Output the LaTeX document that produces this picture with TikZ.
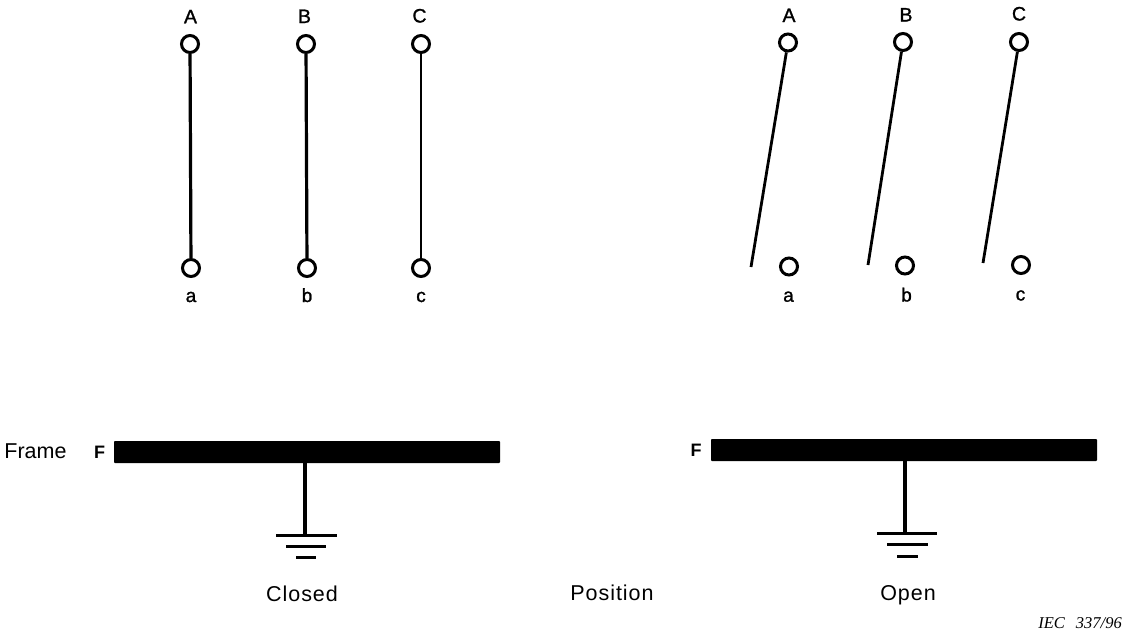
\documentclass[tikz,border=0pt]{standalone}
\usepackage{fontspec}
\setmainfont{Liberation Sans}
\newfontfamily\serifital{Liberation Serif}
\newfontfamily\spacedsans[LetterSpace=4.5]{Liberation Sans}
\newfontfamily\boldish[FakeBold=1.2]{Liberation Sans}
\tikzset{
  x=1pt,y=-1pt,
  term/.style={circle,draw=black,line width=3pt,fill=white,minimum size=17pt,inner sep=0pt},
  blade/.style={line width=3.2pt,draw=black},
  openblade/.style={line width=2.8pt,draw=black},
  framebar/.style={rectangle,fill=black,rounded corners=0.8pt,minimum width=386pt,minimum height=22pt,inner sep=0pt},
  stem/.style={line width=3.4pt,draw=black},
  gnd/.style={line width=3pt,draw=black},
  lab/.style={font=\boldish\fontsize{19.5}{20}\selectfont,inner sep=0pt,anchor=base},
  lowlab/.style={font=\boldish\fontsize{19}{20}\selectfont,inner sep=0pt,anchor=base},
  captext/.style={font=\spacedsans\fontsize{21.5}{22}\selectfont,inner sep=0pt,anchor=base},
}
\begin{document}
\begin{tikzpicture}
\useasboundingbox (0,0) rectangle (1125,630);
% closed
\foreach \n/\xa/\xb in {A/190/191,B/306/307}{
  \node[term] (t\n) at (\xa,44) {};
  \node[term] (b\n) at (\xb,268) {};
  \draw[blade] (t\n) -- (b\n);
}
\node[term] (tC) at (421,44) {};
\node[term] (bC) at (421,268) {};
\draw[openblade] (tC) -- (bC);
\node[lab] (lA) at (190.5,23.3) {A};
\node[lab] (lB) at (304.5,23) {B};
\node[lab] (lC) at (419.5,22.5) {C};
\node[lowlab] (la) at (191,302) {a};
\node[lowlab] (lb) at (307,302) {b};
\node[lowlab] (lc) at (421,302) {c};
% open
\node[term] (oA) at (788,42.5) {};
\node[term] (oB) at (903,42) {};
\node[term] (oC) at (1019,42) {};
\node[term] (pA) at (789,266.5) {};
\node[term] (pB) at (905,265.5) {};
\node[term] (pC) at (1021,265) {};
\coordinate (eA) at (751,267);
\coordinate (eB) at (868,265);
\coordinate (eC) at (983,263);
\draw[openblade] (oA) -- (eA);
\draw[openblade] (oB) -- (eB);
\draw[openblade] (oC) -- (eC);
\node[lab] (mA) at (789,22) {A};
\node[lab] (mB) at (906,21.5) {B};
\node[lab] (mC) at (1019,20.5) {C};
\node[lowlab] (ma) at (788.5,301.7) {a};
\node[lowlab] (mb) at (906.5,301.5) {b};
\node[lowlab] (mc) at (1020.5,300.5) {c};
% frames
\node[framebar] (F1) at (307,452) {};
\node[framebar] (F2) at (904,450) {};
\node[lab,font=\fontsize{18}{18}\selectfont\bfseries] (fl1) at (99.5,458) {F};
\node[lab,font=\fontsize{18}{18}\selectfont\bfseries] (fl2) at (696,456) {F};
\node[font=\fontsize{21.5}{22}\selectfont,inner sep=0pt,anchor=base] (frame) at (35.5,458) {Frame};
% earths
\coordinate (g1) at (305,535);
\coordinate (g2) at (905,533.5);
\draw[stem] (F1.south -| g1) -- (g1);
\draw[stem] (F2.south -| g2) -- (g2);
\draw[gnd] (276,535) -- (337,535);
\draw[gnd] (286,546) -- (326,546);
\draw[gnd] (296,557.5) -- (316,557.5);
\draw[gnd] (877,533.5) -- (937,533.5);
\draw[gnd] (887,544.5) -- (928,544.5);
\draw[gnd] (897,556.5) -- (918,556.5);
% captions
\node[captext] (closed) at (302,601.5) {Closed};
\node[captext] (pos) at (612,600) {Position};
\node[captext] (open) at (908,600) {Open};
\node[font=\serifital\itshape\fontsize{16.5}{16.5}\selectfont,inner sep=0pt,anchor=base east] (iec) at (1122,628) {IEC\hspace{11pt}337/96};
\end{tikzpicture}
\end{document}
